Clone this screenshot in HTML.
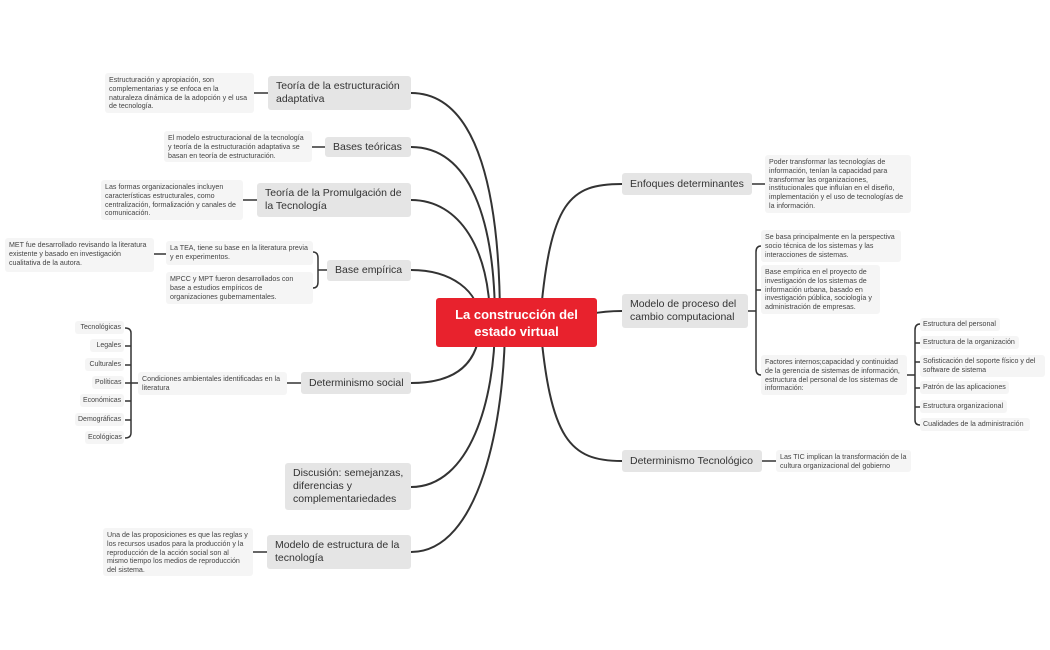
<!DOCTYPE html>
<html><head><meta charset="utf-8"><style>
body{margin:0;width:1050px;height:650px;background:#fff;position:relative;overflow:hidden;font-family:"Liberation Sans",sans-serif;color:#333}
.n{position:absolute;background:#e5e5e5;border-radius:3px;font-size:10.5px;line-height:13px;padding:0 8px;box-sizing:border-box;display:flex;align-items:center;white-space:nowrap}
.s{position:absolute;background:#f5f5f5;border-radius:3px;font-size:7.1px;line-height:8.8px;padding:3px 4px;box-sizing:border-box;color:#444}
.l{position:absolute;background:#f5f5f5;border-radius:3px;font-size:7px;line-height:9px;padding:2px 3px;box-sizing:border-box;color:#444;text-align:right}
svg{position:absolute;left:0;top:0}
</style></head><body>
<svg width="1050" height="650" fill="none" stroke="#333" stroke-width="2">
<path d="M411 93 C480 93 500 200 500 322"/>
<path d="M411 147 C470 147 495 220 495 322"/>
<path d="M411 200 C460 200 490 250 490 322"/>
<path d="M411 270 C450 270 480 290 480 322"/>
<path d="M411 383 C460 383 480 360 480 322"/>
<path d="M411 487 C470 487 495 400 495 322"/>
<path d="M411 552 C480 552 505 420 505 322"/>
<path d="M540 322 C550 200 570 184 622 184"/>
<path d="M590 314 C600 312 610 311 622 311"/>
<path d="M540 322 C550 440 570 461 622 461"/>
<g stroke-width="1.5">
<path d="M254 93 H268"/><path d="M312 147 H325"/><path d="M243 200 H257"/>
<path d="M154 254 H166"/><path d="M313 252 q5 0 5 6 v24 q0 6 -5 6 M318 270 H327"/>
<path d="M287 383 H301"/>
<path d="M125 328 q6 0 6 5 v100 q0 5 -6 5 M131 383 H138 M125 346 H131 M125 365 H131 M125 383 H131 M125 401 H131 M125 420 H131"/>
<path d="M253 552 H267"/>
<path d="M752 184 H765"/><path d="M762 461 H776"/>
<path d="M761 246 q-5 0 -5 6 v117 q0 6 5 6 M748 311 H756 M756 290 H761"/>
<path d="M920 324 q-5 0 -5 6 v90 q0 5 5 5 M907 375 H915 M915 343 H920 M915 362 H920 M915 388 H920 M915 407 H920"/>
</g>
</svg>
<div style="position:absolute;left:436px;top:298px;width:161px;height:49px;background:#e8222d;border-radius:3px;color:#fff;font-weight:bold;font-size:13px;line-height:17px;text-align:center;display:flex;align-items:center;justify-content:center">La construcción del<br>estado virtual</div>

<div class="n" style="left:268px;top:76px;width:143px;height:34px">Teoría de la estructuración<br>adaptativa</div>
<div class="n" style="left:325px;top:137px;width:86px;height:20px">Bases teóricas</div>
<div class="n" style="left:257px;top:183px;width:154px;height:34px">Teoría de la Promulgación de<br>la Tecnología</div>
<div class="n" style="left:327px;top:260px;width:84px;height:21px">Base empírica</div>
<div class="n" style="left:301px;top:372px;width:110px;height:22px">Determinismo social</div>
<div class="n" style="left:285px;top:463px;width:126px;height:47px">Discusión: semejanzas,<br>diferencias y<br>complementariedades</div>
<div class="n" style="left:267px;top:535px;width:144px;height:34px">Modelo de estructura de la<br>tecnología</div>
<div class="n" style="left:622px;top:173px;width:130px;height:22px">Enfoques determinantes</div>
<div class="n" style="left:622px;top:294px;width:126px;height:34px">Modelo de proceso del<br>cambio computacional</div>
<div class="n" style="left:622px;top:450px;width:140px;height:22px">Determinismo Tecnológico</div>

<div class="s" style="left:105px;top:73px;width:149px;height:40px">Estructuración y apropiación, son complementarias y se enfoca en la naturaleza dinámica de la adopción y el usa de tecnología.</div>
<div class="s" style="left:164px;top:131px;width:148px;height:31px">El modelo estructuracional de la tecnología y teoría de la estructuración adaptativa se basan en teoría de estructuración.</div>
<div class="s" style="left:101px;top:180px;width:142px;height:40px">Las formas organizacionales incluyen características estructurales, como centralización, formalización y canales de comunicación.</div>
<div class="s" style="left:5px;top:238px;width:149px;height:34px">MET fue desarrollado revisando la literatura existente y basado en investigación cualitativa de la autora.</div>
<div class="s" style="left:166px;top:241px;width:147px;height:24px">La TEA, tiene su base en la literatura previa y en experimentos.</div>
<div class="s" style="left:166px;top:272px;width:147px;height:32px">MPCC y MPT fueron desarrollados con base a estudios empíricos de organizaciones gubernamentales.</div>
<div class="s" style="left:138px;top:372px;width:149px;height:23px">Condiciones ambientales identificadas en la literatura</div>
<div class="l" style="left:75px;top:321px;width:49px">Tecnológicas</div>
<div class="l" style="left:90px;top:339px;width:34px">Legales</div>
<div class="l" style="left:85px;top:358px;width:39px">Culturales</div>
<div class="l" style="left:92px;top:376px;width:32px">Políticas</div>
<div class="l" style="left:80px;top:394px;width:44px">Económicas</div>
<div class="l" style="left:75px;top:413px;width:49px">Demográficas</div>
<div class="l" style="left:85px;top:431px;width:39px">Ecológicas</div>
<div class="s" style="left:103px;top:528px;width:150px;height:48px">Una de las proposiciones es que las reglas y los recursos usados para la producción y la reproducción de la acción social son al mismo tiempo los medios de reproducción del sistema.</div>

<div class="s" style="left:765px;top:155px;width:146px;height:58px">Poder transformar las tecnologías de información, tenían la capacidad para transformar las organizaciones, institucionales que influían en el diseño, implementación y el uso de tecnologías de la información.</div>
<div class="s" style="left:761px;top:230px;width:140px;height:32px">Se basa principalmente en la perspectiva socio técnica de los sistemas y las interacciones de sistemas.</div>
<div class="s" style="left:761px;top:265px;width:119px;height:49px">Base empírica en el proyecto de investigación de los sistemas de información urbana, basado en investigación pública, sociología y administración de empresas.</div>
<div class="s" style="left:761px;top:355px;width:146px;height:40px">Factores internos;capacidad y continuidad de la gerencia de sistemas de información, estructura del personal de los sistemas de información:</div>
<div class="s" style="left:920px;top:318px;width:80px;padding:2px 3px">Estructura del personal</div>
<div class="s" style="left:920px;top:336px;width:99px;padding:2px 3px">Estructura de la organización</div>
<div class="s" style="left:920px;top:355px;width:125px;height:22px;padding:2px 3px">Sofisticación del soporte físico y del software de sistema</div>
<div class="s" style="left:920px;top:381px;width:89px;padding:2px 3px">Patrón de las aplicaciones</div>
<div class="s" style="left:920px;top:400px;width:87px;padding:2px 3px">Estructura organizacional</div>
<div class="s" style="left:920px;top:418px;width:110px;padding:2px 3px">Cualidades de la administración</div>
<div class="s" style="left:776px;top:450px;width:135px;height:22px">Las TIC implican la transformación de la cultura organizacional del gobierno</div>
</body></html>
